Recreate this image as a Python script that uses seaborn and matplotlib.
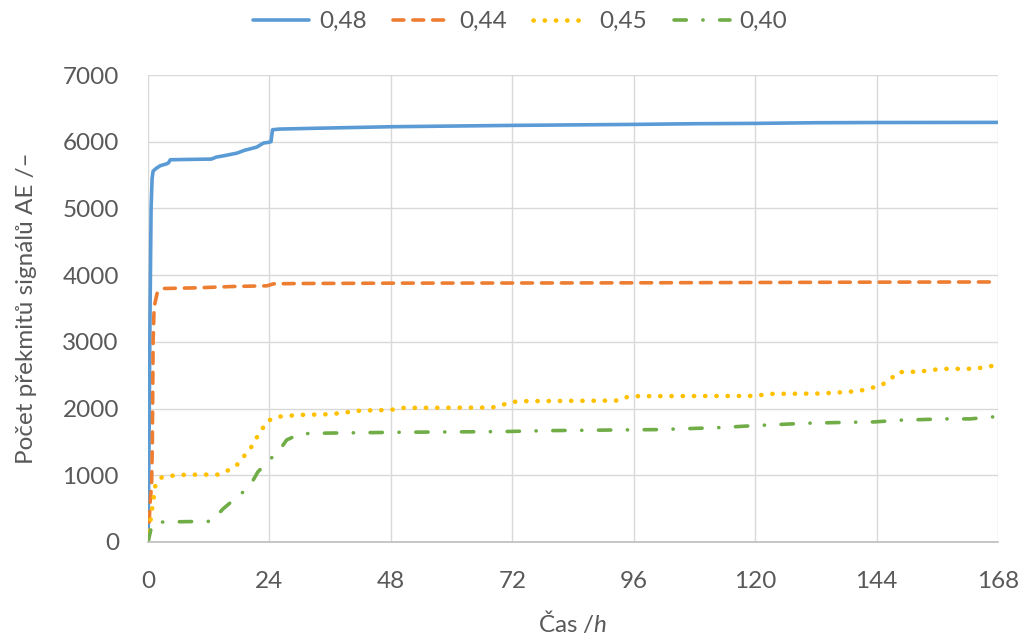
import pandas as pd
import matplotlib
matplotlib.use('Agg')
import matplotlib.pyplot as plt
import seaborn as sns

# %% data
t_048 = [0, 0.2, 0.4, 0.6, 0.8, 1.0, 1.6, 2.4, 3.5, 4.0, 4.4, 8, 12.5, 13.5, 15, 17.6, 19,
         21.5, 22.8, 23.7, 24.3, 24.6, 26, 32, 48, 72, 96, 108, 120, 132, 144, 168]
y_048 = [0, 1500, 3500, 5000, 5450, 5560, 5600, 5640, 5665, 5680, 5730, 5735, 5740, 5770, 5790,
         5830, 5870, 5920, 5980, 5990, 6000, 6180, 6190, 6200, 6225, 6245, 6260, 6270, 6275,
         6285, 6288, 6290]

t_044 = [0, 0.2, 0.4, 0.7, 0.85, 1.0, 1.2, 1.8, 3.0, 9.7, 16.8, 23.5, 24.8, 30, 48, 72, 96,
         120, 144, 168]
y_044 = [0, 250, 585, 850, 1500, 3000, 3520, 3730, 3800, 3810, 3830, 3840, 3870, 3875, 3880,
         3882, 3885, 3890, 3895, 3898]

t_045 = [0, 0.3, 0.6, 1.0, 1.5, 2.8, 6, 10, 13.8, 16, 17.8, 19, 20.3, 21.3, 22.5, 23.3, 25.3,
         27.5, 30, 36, 40, 42, 48, 50, 68, 70.7, 73, 93, 94.6, 96, 120, 122.7, 133, 135, 138.3,
         140.6, 142.7, 144.7, 146.6, 148.2, 152.7, 155, 157.2, 161.8, 164.1, 166.4, 168]
y_045 = [0, 180, 400, 600, 880, 975, 1005, 1010, 1010, 1080, 1170, 1290, 1410, 1545, 1680, 1800,
         1875, 1890, 1905, 1915, 1950, 1970, 1980, 2010, 2015, 2070, 2110, 2120, 2170, 2185, 2190,
         2220, 2225, 2235, 2250, 2265, 2305, 2340, 2430, 2545, 2555, 2580, 2595, 2595, 2605, 2635,
         2645]

t_040 = [0, 0.3, 0.6, 1.0, 3.0, 12.6, 14.8, 16.2, 18.8, 20.8, 21.7, 24, 26, 27.4, 30, 33, 50,
         70, 80, 101, 113, 120, 130, 139, 143.6, 148.3, 152.9, 157.7, 162.4, 167, 168]
y_040 = [0, 100, 200, 280, 300, 310, 495, 585, 750, 930, 1050, 1230, 1380, 1530, 1620, 1630,
         1645, 1655, 1670, 1685, 1715, 1745, 1780, 1795, 1800, 1825, 1835, 1845, 1845, 1875, 1880]

labels = ['0,48', '0,44', '0,45', '0,40']
colors = ['#5B9BD5', '#ED7D31', '#FFC000', '#70AD47']
styles = ['-', (0, (3, 2.5)), (0, (0.05, 2.4)), (0, (3.4, 4.6, 0.05, 4.6))]
widths = [2.6, 2.6, 3.3, 2.6]

x_ticks = list(range(0, 169, 24))
y_ticks = list(range(0, 7001, 1000))

# %% style
sns.set_theme(style='white')
plt.rcParams['font.family'] = ['Lato', 'DejaVu Sans']
plt.rcParams['mathtext.fontset'] = 'custom'
plt.rcParams['mathtext.it'] = 'Lato:italic'
plt.rcParams['mathtext.rm'] = 'Lato'
txt = '#595959'

fig = plt.figure(figsize=(10.26, 6.38), dpi=100)
ax = fig.add_axes([0.1443, 0.1505, 0.8285, 0.7319])

series = [(t_048, y_048), (t_044, y_044), (t_045, y_045), (t_040, y_040)]
for (t, y), lab, col, ls, lw in zip(series, labels, colors, styles, widths):
    df = pd.DataFrame({'t': t, 'n': y})
    sns.lineplot(data=df, x='t', y='n', ax=ax, color=col, linewidth=lw, linestyle=ls,
                 label=lab, estimator=None, sort=False,
                 dash_capstyle='round', solid_capstyle='round')

ax.set_xlim(0, 168)
ax.set_ylim(0, 7000)
ax.set_xticks(x_ticks)
ax.set_yticks(y_ticks)
ax.grid(True, color='#D9D9D9', linewidth=1.0)
ax.set_axisbelow(True)
for s in ['top', 'right', 'left']:
    ax.spines[s].set_visible(False)
ax.spines['bottom'].set_color('#BFBFBF')
ax.tick_params(axis='both', length=0, labelsize=17.5, labelcolor=txt)
ax.tick_params(axis='y', pad=21)
ax.tick_params(axis='x', pad=21)
ax.set_xlabel('Čas /$h$', fontsize=17.5, color=txt, labelpad=12)
ax.set_ylabel('Počet překmitů signálů AE /–', fontsize=17.5, color=txt, labelpad=18)

handles, labs = ax.get_legend_handles_labels()
ax.get_legend().remove()
fig.legend(handles, labs, loc='center', bbox_to_anchor=(0.507, 0.966), ncol=4, frameon=False,
           fontsize=17.5, labelcolor=txt, handlelength=2.3, handletextpad=0.4, columnspacing=1.1)

fig.savefig('out.png', dpi=100)
